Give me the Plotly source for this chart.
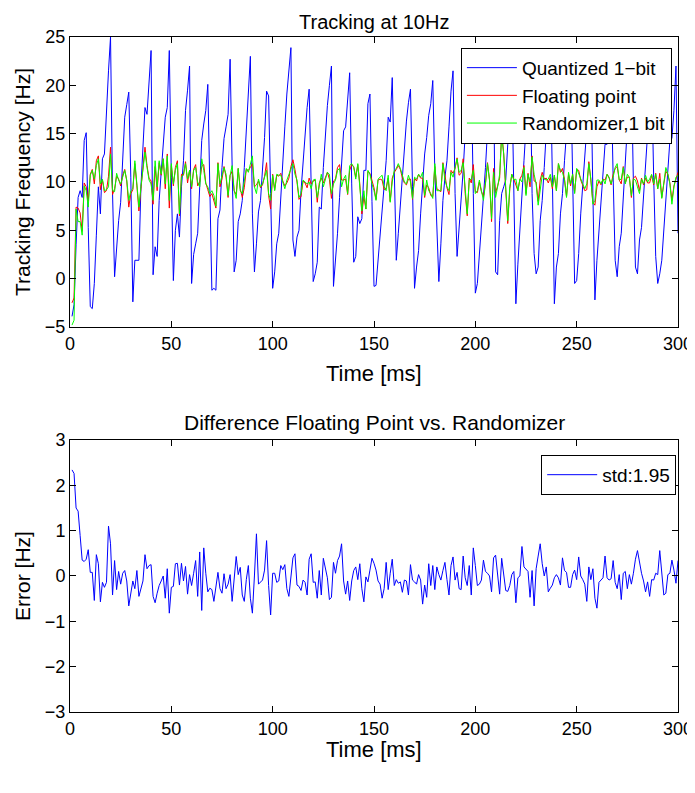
import plotly.graph_objs as go

# time axis, one sample per ms
time_ms = list(range(1, 301))

quantized_1bit = [
    -3.9, -2.7, 3.5, 8.4, 9.1, 8.4, 14.3, 15.1, 5.3, -2.9,
    -3.1, -0.5, 4.5, 9.5, 6.7, 12.4, 12.9, 18, 21.5, 25,
    8.8, 0.2, 3.5, 6, 7.9, 12.5, 16.7, 18, 19.3, 10.5,
    -2.4, 1.9, 1.9, 1.9, 9.5, 13.5, 17.7, 17, 20.5, 23.6,
    0.4, 3.3, 2.3, 8.1, 11, 14.5, 16.7, 17.7, 23.6, 10.5,
    -0.2, 5, 6.7, 4.3, 9.5, 12.2, 17.4, 19.5, 22, -0.5,
    2.5, 3.6, 4.7, 9.5, 14.3, 16, 17.4, 20.1, 9, -1.2,
    -1, -1.2, 6.2, 7.1, 11.5, 14.5, 15.7, 17, 22.7, 9.5,
    0.7, 1.9, 5.9, 6.7, 8.1, 11.5, 15.7, 19.1, 23, 6.7,
    0.7, 3.6, 6.9, 8.1, 11.5, 14.6, 19.4, 18.9, 8.8, -1,
    0.7, 3.6, 4.7, 8.8, 12.2, 15.7, 19.1, 21.2, 23.9, 4,
    2.3, 4.3, 5, 9.1, 12.2, 15.3, 17.7, 19.6, 9.5, -0.3,
    0.5, 1.7, 7.4, 7.2, 11.5, 15.3, 17.9, 20, 22, -0.8,
    1.9, 4.7, 8.4, 11.5, 15.3, 15.7, 18.2, 21.3, 9.8, 1.7,
    2.3, 6.4, 5.7, 6.2, 11.2, 11.2, 18.1, 19.1, 8, -0.8,
    -0.7, 1.9, 4.7, 6.7, 9.5, 12.2, 16.7, 16.2, 20.8, 10.5,
    1.9, 4.7, 7.7, 10.2, 13.2, 16.3, 18.2, 19.6, 9.5, -1,
    1.2, 2.9, 6.7, 10.2, 12.9, 14.6, 16.9, 18.1, 20.5, 11.2,
    4.7, -0.3, 3.6, 8.1, 10.5, 12.2, 15.7, 19.4, 21.5, 8.8,
    2.3, 5, 8.1, 11.2, 15, 17, 18.7, 20.8, 8.8, -1.5,
    -0.5, 2.6, 4.7, 8.1, 11.5, 15.3, 14.1, 17.4, 21.8, 0.7,
    0.4, 6, 8.8, 9.5, 10.2, 13.9, 16.3, 20.8, 6.7, -2.6,
    1.5, 4.7, 8.8, 12.2, 15.7, 19.1, 22.9, 8.8, 2.6, 0.5,
    1.2, 6, 8.1, 11.5, 15.3, 18.4, 22.5, 10.5, -2.6, 1.2,
    2.6, 6.7, 8.8, 12.2, 15, 18.1, 21.8, 10.5, -0.5, -0.2,
    2.6, 6.7, 9.5, 12.2, 15.7, 18.7, 21.5, 8.8, -2.2, 1.9,
    4.7, 7.4, 10.5, 13.9, 13.9, 17.7, 20.8, 10.5, 1.9, 0.2,
    3.3, 4.7, 8.8, 12.9, 15.7, 18.4, 21.2, 9.8, 1.2, 0.5,
    4, 5.3, 8.8, 12.2, 15, 17.4, 20.8, 10.5, 2.3, -0.5,
    0.5, 1.9, 5.3, 8.1, 11.5, 14.3, 14.5, 17.4, 22, 4.7,
]

floating_point = [
    -2.5, -2.0, 7.4, 7.3, 6.8, 4.9, 9.9, 9.5, 8.0, 10.8,
    11.3, 9.8, 12.2, 12.7, 9.2, 10.2, 8.9, 9.1, 10.6, 13.6,
    8.7, 9.3, 10.6, 10.3, 9.6, 10.7, 11.3, 10.1, 7.4, 8.8,
    9.2, 11.9, 9.6, 7.0, 9.3, 11.3, 13.6, 11.7, 10.4, 10.1,
    7.7, 11.6, 9.1, 12.0, 10.7, 12.4, 9.3, 12.9, 7.3, 11.7,
    9.6, 11.5, 12.2, 6.5, 10.8, 10.7, 12.1, 9.9, 11.2, 9.3,
    11.3, 11.8, 9.6, 10.0, 11.6, 11.8, 9.9, 9.2, 8.5, 8.8,
    8.0, 7.3, 12.0, 9.5, 10.3, 11.6, 10.5, 8.4, 10.7, 11.1,
    9.1, 8.7, 11.4, 9.3, 8.4, 9.4, 11.3, 11.2, 11.5, 11.9,
    9.5, 9.7, 10.1, 9.4, 9.7, 10.6, 12.0, 8.6, 7.2, 10.8,
    9.2, 10.7, 10.6, 10.9, 10.1, 9.6, 9.9, 10.4, 11.6, 12.3,
    11.3, 10.0, 8.2, 8.5, 10.1, 9.9, 9.4, 10.4, 9.8, 10.1,
    10.2, 7.9, 9.9, 10.4, 9.9, 10.5, 11.0, 10.3, 8.3, 10.1,
    10.3, 11.5, 11.8, 10.2, 10.2, 10.3, 8.7, 11.2, 11.8, 11.6,
    10.5, 11.8, 9.8, 6.7, 8.5, 7.2, 11.1, 10.9, 10.2, 9.4,
    8.2, 10.2, 10.3, 10.2, 9.2, 9.4, 10.4, 8.0, 10.4, 11.0,
    11.3, 11.7, 11.3, 10.4, 9.9, 9.7, 10.3, 10.3, 8.2, 10.4,
    10.1, 10.8, 10.4, 10.4, 8.4, 9.7, 9.4, 8.6, 8.5, 11.6,
    9.3, 9.1, 9.0, 12.0, 10.5, 9.4, 8.7, 11.2, 10.9, 11.4,
    12.5, 10.7, 10.9, 12.4, 8.8, 6.5, 10.4, 9.9, 11.8, 9.0,
    8.9, 10.0, 9.0, 8.5, 9.9, 12.0, 10.2, 5.9, 11.4, 8.9,
    9.6, 10.4, 15.2, 12.9, 9.2, 5.7, 9.3, 10.8, 10.3, 9.7,
    9.1, 10.3, 10.7, 11.7, 8.8, 10.9, 9.5, 12.7, 10.1, 10.0,
    8.0, 10.2, 11.0, 10.3, 10.4, 9.9, 10.5, 9.3, 10.7, 9.1,
    11.9, 11.0, 11.4, 10.3, 8.5, 10.8, 9.6, 10.8, 8.9, 11.3,
    11.2, 10.2, 9.7, 9.1, 9.2, 12.1, 10.2, 7.9, 7.6, 9.5,
    10.1, 9.7, 10.3, 10.2, 10.8, 10.4, 9.7, 10.8, 11.4, 11.6,
    10.2, 9.8, 11.6, 9.9, 10.5, 10.5, 8.4, 10.4, 10.6, 10.1,
    9.1, 10.4, 9.7, 10.4, 9.9, 9.9, 10.7, 9.7, 10.9, 9.3,
    10.9, 8.4, 9.8, 11.1, 10.8, 9.9, 8.1, 9.6, 10.3, 11.0,
]

randomizer_1bit = [
    -4.8, -4.3, 7.2, 5.9, 5.9, 4.5, 9.6, 9.1, 7.4, 10.7,
    11.2, 10.3, 11.7, 12.4, 9.8, 10.3, 9.1, 9.2, 9.5, 12.9,
    9.1, 9, 10.9, 10.2, 9.8, 10.6, 11.2, 10.2, 8.1, 9.1,
    9.3, 12.2, 9.5, 7.4, 9.5, 11.4, 13.1, 11.5, 10.2, 9.8,
    8.1, 12.2, 9.5, 12.2, 10.8, 12.4, 9.8, 12.7, 8.1, 11.9,
    9.8, 11.2, 11.9, 6.7, 10.5, 10.8, 11.9, 10.3, 11.2, 9.5,
    11.2, 11.5, 10, 9.5, 12.4, 11.2, 9.8, 9.5, 8.8, 9.1,
    8.6, 7.5, 11.9, 9.8, 10.7, 11.5, 10.8, 8.6, 10.7, 11.7,
    9.1, 8.3, 11.4, 9.1, 8.8, 10, 11.4, 11, 12, 12.7,
    9.5, 8.8, 10.3, 9.5, 9.8, 10.5, 11.2, 8.8, 8.1, 10.7,
    9.1, 10.8, 10.7, 10.7, 10, 9.3, 10.2, 10.8, 11.5, 11.9,
    10.8, 10.2, 8.4, 8.8, 10.2, 10, 9.8, 10, 9.3, 10.2,
    10.3, 8.4, 9.8, 10.8, 9.5, 10.3, 11, 10.8, 8.8, 9.8,
    10.2, 11.2, 11.4, 9.5, 10.3, 10.7, 8.8, 11.7, 11.9, 11.5,
    10.3, 11.9, 9.5, 7, 9.1, 7.2, 11.2, 10.8, 9.8, 9.1,
    8.1, 10.3, 10.5, 10.7, 9.5, 9.1, 10.7, 7.9, 10, 11.2,
    11.4, 11.9, 11.4, 10.8, 10, 9.8, 10.7, 10, 8.3, 10.5,
    10.3, 10.8, 10.5, 11, 8.6, 10.2, 9.1, 8.8, 8.3, 11.9,
    9.1, 9.1, 9.1, 11.9, 10.2, 9.5, 9.1, 11, 10.5, 11.5,
    12.4, 11, 11.2, 12, 8.8, 6.7, 10.2, 10.3, 11.2, 8.8,
    9.1, 10.2, 9.1, 8.1, 9.8, 11.9, 10.2, 6.2, 11, 8.4,
    9.5, 10.8, 14.8, 12.9, 9.5, 6, 9.5, 10.8, 10.2, 10.3,
    9.1, 10.3, 10, 11.5, 8.6, 10.8, 10, 12.6, 10.8, 9.8,
    7.6, 9.5, 10.7, 10.3, 10.2, 10.3, 10.8, 9.5, 10.7, 9.1,
    11.9, 11.2, 11, 10.2, 8.4, 11, 9.8, 10.8, 8.8, 11.4,
    10.8, 10.2, 9.8, 9.3, 9.8, 11.9, 10.3, 7.7, 8.1, 10.2,
    10.2, 9.8, 10.3, 9.8, 10.8, 10.5, 9.8, 10.5, 11.5, 11.9,
    10.2, 10.3, 11.5, 9.8, 10.8, 10.5, 8.6, 10.3, 10.2, 9.5,
    8.8, 10.3, 9.8, 10.7, 10, 10.3, 10.8, 9.8, 10.8, 9.3,
    10.3, 8.3, 10.2, 11.5, 10.8, 9.8, 7.7, 9.5, 10.5, 10.7,
]

error_hz = [
    2.34, 2.26, 1.5, 1.43, 0.89, 0.35, 0.32, 0.37, 0.58, 0.08,
    0.08, -0.54, 0.47, 0.27, -0.57, -0.14, -0.25, -0.14, 1.1, 0.71,
    -0.42, 0.34, -0.3, 0.1, -0.18, 0.06, 0.12, -0.11, -0.66, -0.35,
    -0.11, -0.28, 0.12, -0.45, -0.25, -0.11, 0.47, 0.16, 0.23, 0.25,
    -0.45, -0.59, -0.38, -0.21, -0.11, 0, -0.49, 0.16, -0.82, -0.25,
    -0.23, 0.27, 0.28, -0.2, 0.28, -0.11, 0.21, -0.4, 0.03, -0.21,
    0.06, 0.34, -0.45, 0.53, -0.76, 0.62, 0.06, -0.35, -0.27, -0.3,
    -0.56, -0.18, 0.08, -0.28, -0.38, 0.05, -0.28, -0.18, 0.03, -0.56,
    -0.04, 0.43, 0.03, 0.19, -0.42, -0.56, -0.08, 0.23, -0.49, -0.82,
    0, 0.93, -0.18, -0.14, -0.09, 0.13, 0.78, -0.21, -0.86, 0.06,
    0.06, -0.14, -0.11, 0.23, 0.14, 0.25, -0.28, -0.45, 0.06, 0.4,
    0.49, -0.2, -0.23, -0.32, -0.09, -0.14, -0.42, 0.37, 0.49, -0.14,
    -0.13, -0.49, 0.12, -0.42, 0.39, 0.2, -0.04, -0.52, -0.47, 0.3,
    0.06, 0.34, 0.44, 0.71, -0.11, -0.4, -0.11, -0.54, -0.11, 0.12,
    0.2, -0.08, 0.27, -0.28, -0.57, -0.02, -0.13, 0.13, 0.39, 0.28,
    0.13, -0.11, -0.18, -0.49, -0.28, 0.3, -0.3, 0.06, 0.37, -0.21,
    -0.08, -0.16, -0.13, -0.36, -0.09, -0.11, -0.42, 0.25, -0.09, -0.13,
    -0.18, 0.03, -0.09, -0.62, -0.2, -0.47, 0.27, -0.21, 0.23, -0.3,
    0.2, 0.03, -0.09, 0.12, 0.3, -0.08, -0.42, 0.23, 0.42, -0.09,
    0.08, -0.28, -0.3, 0.44, -0.04, -0.21, 0.23, -0.42, 0.62, 0.23,
    -0.21, -0.18, -0.09, 0.35, 0.1, 0.06, 0, -0.35, 0.4, 0.46,
    0.06, -0.4, 0.39, -0.04, -0.32, -0.34, -0.21, 0.03, 0.1, -0.59,
    -0.04, 0, 0.65, 0.2, 0.16, 0.1, -0.47, 0.12, -0.66, 0.16,
    0.44, 0.71, 0.27, 0, 0.2, -0.35, -0.27, -0.2, -0.04, 0.03,
    -0.04, -0.2, 0.4, 0.12, 0.08, -0.25, -0.25, 0.03, 0.13, -0.08,
    0.42, 0, -0.08, -0.18, -0.56, 0.2, -0.08, 0.16, -0.49, -0.71,
    -0.14, -0.09, -0.04, 0.44, -0.04, -0.09, -0.06, 0.34, -0.14, -0.28,
    0.03, -0.52, 0.06, 0.1, -0.28, 0.03, -0.18, 0.06, 0.37, 0.56,
    0.27, 0.06, -0.11, -0.35, -0.13, -0.45, -0.08, -0.09, 0.06, 0.03,
    0.56, 0.06, -0.42, -0.38, 0.03, 0.06, 0.35, 0.13, -0.16, 0.34,
]

x_ticks = [0, 50, 100, 150, 200, 250, 300]
top_y_ticks = [-5, 0, 5, 10, 15, 20, 25]
bottom_y_ticks = [-3, -2, -1, 0, 1, 2, 3]

FONT = "Liberation Sans, Arial, sans-serif"


def axis_style(**kw):
    # matlab style box: black frame, ticks inside on all four sides
    d = dict(showline=True, linecolor="black", linewidth=1, mirror="ticks",
             ticks="inside", ticklen=6, tickcolor="black", showgrid=False,
             zeroline=False, automargin=False,
             tickfont=dict(size=18, color="black"))
    d.update(kw)
    return d


def label(text, x, y, size, **kw):
    d = dict(text=text, x=x, y=y, xref="paper", yref="paper", showarrow=False,
             font=dict(size=size, color="black"), yanchor="middle")
    d.update(kw)
    return d


def main():
    traces = [
        go.Scatter(x=time_ms, y=quantized_1bit, mode="lines", name="Quantized 1\u2212bit",
                   line=dict(color="#0000ff", width=1), xaxis="x", yaxis="y", legend="legend"),
        go.Scatter(x=time_ms, y=floating_point, mode="lines", name="Floating point",
                   line=dict(color="#ff0000", width=1), xaxis="x", yaxis="y", legend="legend"),
        go.Scatter(x=time_ms, y=randomizer_1bit, mode="lines", name="Randomizer,1 bit",
                   line=dict(color="#00ff00", width=1), xaxis="x", yaxis="y", legend="legend"),
        go.Scatter(x=time_ms, y=error_hz, mode="lines", name="std:1.95",
                   line=dict(color="#0000ff", width=1), xaxis="x2", yaxis="y2", legend="legend2"),
    ]

    # page body has an 8px margin, so the figure is 8px smaller than the window
    layout = go.Layout(
        width=687, height=785,
        margin=dict(l=62, r=17, t=29, b=81),
        paper_bgcolor="white", plot_bgcolor="white",
        font=dict(family=FONT, size=18, color="black"),
        xaxis=axis_style(domain=[0, 1], range=[0, 300], tickvals=x_ticks, anchor="y"),
        yaxis=axis_style(domain=[0.5704, 1], range=[-5, 25], tickvals=top_y_ticks, anchor="x",
                         title=dict(text="Tracking Frequency [Hz]", font=dict(size=21), standoff=8)),
        xaxis2=axis_style(domain=[0, 1], range=[0, 300], tickvals=x_ticks, anchor="y2"),
        yaxis2=axis_style(domain=[0, 0.403], range=[-3, 3], tickvals=bottom_y_ticks, anchor="x2",
                          title=dict(text="Error [Hz]", font=dict(size=21), standoff=8)),
        legend=dict(x=0.99, y=0.984, xanchor="right", yanchor="top",
                    bgcolor="white", bordercolor="black", borderwidth=1,
                    font=dict(size=19), itemwidth=50, tracegroupgap=0),
        legend2=dict(x=0.997, y=0.381, xanchor="right", yanchor="top",
                     bgcolor="white", bordercolor="black", borderwidth=1,
                     font=dict(size=19), itemwidth=50),
        annotations=[
            label("Tracking at 10Hz", 0.5, 1.042, 20, yanchor="top"),
            label("Difference Floating Point vs. Randomizer", 0.5, 0.4296, 21),
            label("Time [ms]", 0.5, 0.5022, 22),
            label("Time [ms]", 0.5, -0.056, 22),
        ],
    )

    fig = go.Figure(data=traces, layout=layout)
    fig.write_html("out.html")


if __name__ == "__main__":
    main()
